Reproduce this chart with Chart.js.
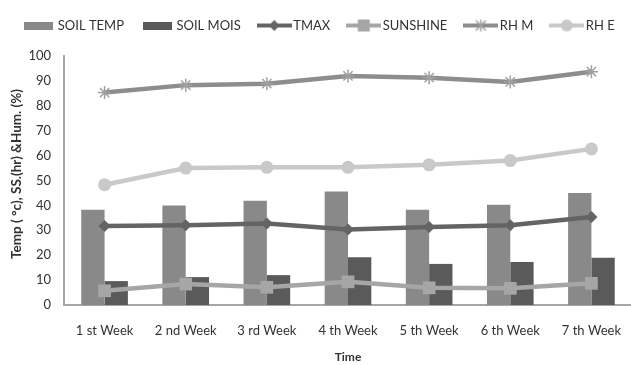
<!DOCTYPE html>
<html>
<head>
<meta charset="utf-8">
<style>
  html, body { margin: 0; padding: 0; background: #ffffff; }
  #wrap { width: 631px; height: 365px; overflow: hidden; position: relative; }
  #chart { display: block; }
</style>
<script src="https://cdn.jsdelivr.net/npm/chart.js@4.4.1/dist/chart.umd.min.js"></script>
</head>
<body>
<div id="wrap"><canvas id="chart" width="641" height="365" style="width:641px;height:365px"></canvas></div>
<script>
// Weekly weather and soil observations
const weeks = ['1 st Week', '2 nd Week', '3 rd Week', '4 th Week', '5 th Week', '6 th Week', '7 th Week'];
const soilTemp = [38.3, 40.0, 41.9, 45.6, 38.3, 40.3, 45.0];
const soilMois = [9.6, 11.2, 12.0, 19.2, 16.5, 17.3, 19.0];
const tmax     = [31.7, 32.0, 32.7, 30.3, 31.3, 32.0, 35.3];
const sunshine = [5.7, 8.4, 7.1, 9.3, 6.9, 6.7, 8.7];
const rhM      = [85.3, 88.3, 88.9, 92.0, 91.3, 89.6, 93.7];
const rhE      = [48.3, 55.0, 55.3, 55.3, 56.3, 58.0, 62.7];
const yTicks   = [0, 10, 20, 30, 40, 50, 60, 70, 80, 90, 100];

const FONT = 'Lato, "Open Sans", sans-serif';

// Small legend swatches: a plain block for bars, a line with its marker for lines
function barSwatch(color) {
  const c = document.createElement('canvas');
  c.width = 29; c.height = 8;
  const g = c.getContext('2d');
  g.fillStyle = color;
  g.fillRect(0, 0, 29, 8);
  return c;
}
function lineSwatch(color, marker, markerColor) {
  const c = document.createElement('canvas');
  c.width = 35; c.height = 14;
  const g = c.getContext('2d');
  g.strokeStyle = color;
  g.lineWidth = 4;
  g.beginPath(); g.moveTo(0, 7); g.lineTo(35, 7); g.stroke();
  g.fillStyle = markerColor;
  g.strokeStyle = markerColor;
  if (marker === 'diamond') {
    g.beginPath(); g.moveTo(17.5, 1.5); g.lineTo(23, 7); g.lineTo(17.5, 12.5); g.lineTo(12, 7); g.closePath(); g.fill();
  } else if (marker === 'square') {
    g.fillRect(11.5, 1, 12, 12);
  } else if (marker === 'circle') {
    g.beginPath(); g.arc(17.5, 7, 6, 0, Math.PI * 2); g.fill();
  } else if (marker === 'star') {
    g.lineWidth = 1.5;
    g.beginPath();
    g.moveTo(12.5, 2); g.lineTo(22.5, 12);
    g.moveTo(22.5, 2); g.lineTo(12.5, 12);
    g.moveTo(17.5, 1); g.lineTo(17.5, 13);
    g.stroke();
  }
  return c;
}

const C = {
  soilTemp: '#898989',
  soilMois: '#5a5a5a',
  tmax: '#646464',
  sun: '#a6a6a6',
  rhM: '#8d8d8d',
  rhMMark: '#a0a0a0',
  rhE: '#c9c9c9'
};

const legendImages = [
  barSwatch(C.soilTemp),
  barSwatch(C.soilMois),
  lineSwatch(C.tmax, 'diamond', C.tmax),
  lineSwatch(C.sun, 'square', C.sun),
  lineSwatch(C.rhM, 'star', C.rhMMark),
  lineSwatch(C.rhE, 'circle', C.rhE)
];

// Leave extra room under the legend row before the plot begins
const legendGap = {
  id: 'legendGap',
  afterInit(chart) {
    const lg = chart.legend;
    if (!lg) return;
    const fit = lg.fit.bind(lg);
    lg.fit = function () { fit(); lg.height += 14; };
  }
};

const lineCommon = { type: 'line', borderWidth: 4.5, fill: false, tension: 0, order: 1 };

new Chart(document.getElementById('chart'), {
  type: 'bar',
  plugins: [legendGap],
  data: {
    labels: weeks,
    datasets: [
      { label: 'SOIL TEMP', data: soilTemp, backgroundColor: C.soilTemp, order: 10 },
      { label: 'SOIL MOIS', data: soilMois, backgroundColor: C.soilMois, order: 10 },
      Object.assign({ label: 'TMAX', data: tmax, borderColor: C.tmax, backgroundColor: C.tmax,
        pointStyle: 'rectRot', pointRadius: 6, pointBackgroundColor: C.tmax, pointBorderColor: C.tmax, pointBorderWidth: 0 }, lineCommon),
      Object.assign({ label: 'SUNSHINE', data: sunshine, borderColor: C.sun, backgroundColor: C.sun,
        pointStyle: 'rect', pointRadius: 9, pointBackgroundColor: C.sun, pointBorderColor: C.sun, pointBorderWidth: 0 }, lineCommon),
      Object.assign({ label: 'RH M', data: rhM, borderColor: C.rhM, backgroundColor: C.rhM,
        pointStyle: 'star', pointRadius: 6.5, pointBackgroundColor: C.rhMMark, pointBorderColor: C.rhMMark, pointBorderWidth: 1.5 }, lineCommon),
      Object.assign({ label: 'RH E', data: rhE, borderColor: C.rhE, backgroundColor: C.rhE,
        pointStyle: 'circle', pointRadius: 6.5, pointBackgroundColor: C.rhE, pointBorderColor: C.rhE, pointBorderWidth: 0 }, lineCommon)
    ]
  },
  options: {
    responsive: false,
    animation: false,
    devicePixelRatio: 1,
    layout: { padding: { top: -2, left: 0, right: 0, bottom: 0 } },
    datasets: {
      bar: { categoryPercentage: 0.575, barPercentage: 1.0 }
    },
    plugins: {
      tooltip: { enabled: false },
      legend: {
        position: 'top',
        labels: {
          usePointStyle: true,
          pointStyleWidth: 25,
          padding: 21,
          color: '#333333',
          font: { family: FONT, size: 13 },
          sort: (a, b) => a.datasetIndex - b.datasetIndex,
          generateLabels: (chart) => chart.data.datasets.map((ds, i) => ({
            text: ds.label,
            datasetIndex: i,
            pointStyle: legendImages[i],
            fillStyle: 'transparent',
            strokeStyle: 'transparent',
            lineWidth: 0,
            hidden: false,
            fontColor: '#333333'
          }))
        }
      }
    },
    scales: {
      x: {
        grid: { display: false, drawTicks: false },
        border: { display: true, color: '#a6a6a6', width: 2 },
        ticks: { color: '#333333', font: { family: FONT, size: 13 }, padding: 18, maxRotation: 0 },
        title: { display: true, text: 'Time', color: '#333333', font: { family: FONT, size: 12, weight: 'bold' }, padding: { top: 0, bottom: 1 } },
        afterFit: (s) => { s.height = 60; }
      },
      y: {
        min: 0,
        max: 100,
        afterBuildTicks: (s) => { s.ticks = yTicks.map(v => ({ value: v })); },
        grid: { display: false, drawTicks: false },
        border: { display: true, color: '#a6a6a6', width: 2 },
        ticks: { color: '#333333', font: { family: FONT, size: 13 }, padding: 13 },
        title: { display: true, text: '    Temp ( °c), SS.(hr) &Hum. (%)', color: '#333333', font: { family: FONT, size: 13.5, weight: 'bold' }, padding: { top: 9, bottom: 0 } },
        afterFit: (s) => { s.width = 64; }
      }
    }
  }
});
</script>
</body>
</html>
